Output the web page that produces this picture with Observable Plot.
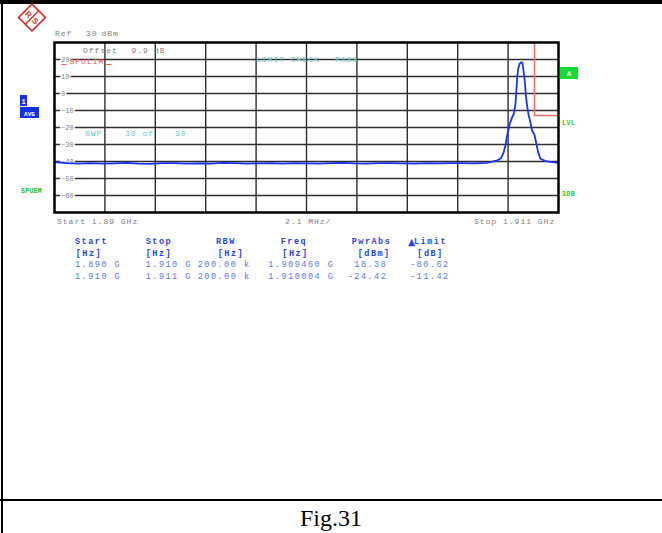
<!DOCTYPE html>
<html><head><meta charset="utf-8">
<script src="https://cdn.jsdelivr.net/npm/d3@7"></script>
<script src="https://cdn.jsdelivr.net/npm/@observablehq/plot@0.6"></script>
<style>
html,body{margin:0;padding:0;background:#fff;}
#page{position:relative;width:662px;height:533px;overflow:hidden;background:#fff;}
#page > svg{position:absolute;left:0;top:0;}
</style></head>
<body><div id="page"></div>
<script>
// ---- data ----
const traceFreq = [1890,1890.5,1891,1891.5,1892,1892.5,1893,1893.5,1894,1894.5,1895,1895.5,1896,1896.5,1897,1897.5,1898,1898.5,1899,1899.5,1900,1900.5,1901,1901.5,1902,1902.5,1903,1903.5,1904,1904.5,1905,1905.5,1906,1906.5,1907,1907.5,1908,
  1908.17,1908.45,1908.61,1908.72,1908.79,1908.86,1908.97,1909.07,1909.14,1909.21,1909.25,1909.28,1909.32,1909.38,1909.46,1909.5,1909.55,1909.6,1909.64,1909.7,1909.76,1909.83,1909.9,1909.97,1910.0,1910.07,1910.15,1910.25,1910.46,1910.74,1910.97,1911];
const traceLevel = [-40.4,-41.0,-41.2,-40.9,-41.3,-41.1,-40.8,-41.2,-41.4,-41.0,-40.9,-41.3,-41.1,-41.2,-40.8,-41.0,-41.3,-41.1,-41.0,-41.2,-40.9,-41.1,-41.3,-41.0,-40.8,-41.1,-41.2,-41.0,-40.9,-41.1,-41.2,-41.0,-41.1,-40.9,-41.0,-41.1,-40.8,
  -40.4,-39.4,-38.0,-34.4,-30.6,-24.7,-17.8,-13.9,-11.9,-6.0,2.8,9.6,14.5,17.5,18.4,17.8,12.5,6.6,-1.2,-8.1,-13.0,-16.9,-21.8,-23.5,-24.4,-29.0,-34.5,-38.4,-39.8,-40.4,-40.8,-40.9];
const limitFreq = [1890, 1910, 1910, 1911];
const limitLevel = [99, 99, -13, -13];
const gridFreqs = [1892.1, 1894.2, 1896.3, 1898.4, 1900.5, 1902.6, 1904.7, 1906.8, 1908.9];
const gridLevels = [20, 10, 0, -10, -20, -30, -40, -50, -60];

const tableHeader = ["Start", "Stop", "RBW", "Freq", "PwrAbs", "Limit"];
const tableUnits = ["[Hz]", "[Hz]", "[Hz]", "[Hz]", "[dBm]", "[dB]"];
const colStart = ["1.890 G", "1.910 G"];
const colStop = ["1.910 G", "1.911 G"];
const colRBW = ["200.00 k", "200.00 k"];
const colFreq = ["1.909460 G", "1.910004 G"];
const colPwrAbs = ["18.38", "-24.42"];
const colLimit = ["-80.62", "-11.42"];

// ---- chart ----
const mono = "'Liberation Mono','DejaVu Sans Mono',monospace";
const trace = traceFreq.map((f, i) => ({f, v: traceLevel[i]}));
const limit = limitFreq.map((f, i) => ({f, v: limitLevel[i]}));

const chart = Plot.plot({
  width: 662, height: 533,
  marginLeft: 54, marginRight: 104, marginTop: 42, marginBottom: 321,
  x: {domain: [1890, 1911], axis: null},
  y: {domain: [-70, 30], axis: null},
  style: {background: "transparent", fontFamily: mono},
  marks: [
    Plot.ruleX(gridFreqs, {x: d => d, stroke: "#2e2e2e", strokeWidth: 1.4}),
    Plot.ruleY(gridLevels, {y: d => d, stroke: "#2e2e2e", strokeWidth: 1.4}),
    Plot.text(gridLevels, {y: d => d, text: d => d < 0 ? "\u2212" + (-d) : String(d), frameAnchor: "left", dx: 6.5,
      textAnchor: "start", fill: "#808080", stroke: "white", strokeWidth: 3, fontSize: 7}),
    Plot.line(limit, {x: "f", y: "v", stroke: "#f06a6a", strokeWidth: 1.5, clip: true}),
    Plot.line(trace, {x: "f", y: "v", stroke: "#1a35f0", strokeWidth: 1.8, clip: true}),
    Plot.frame({stroke: "black", strokeWidth: 2.5})
  ]
});
document.getElementById("page").appendChild(chart);

// ---- overlay annotations ----
const ov = d3.create("svg").attr("width", 662).attr("height", 533)
  .style("font-family", mono);
function t(s, x, y, o = {}) {
  return ov.append("text").attr("x", x).attr("y", y).text(s)
    .attr("font-size", o.size || 8).attr("fill", o.fill || "#808080")
    .attr("font-weight", o.bold ? "bold" : "normal")
    .attr("text-anchor", o.anchor || "start")
    .style("letter-spacing", (o.ls !== undefined ? o.ls : 1) + "px")
    .style("white-space", "pre");
}
// page border
ov.append("rect").attr("x", 0).attr("y", 0).attr("width", 662).attr("height", 4).attr("fill", "black");
ov.append("rect").attr("x", 1).attr("y", 0).attr("width", 2).attr("height", 533).attr("fill", "black");
ov.append("rect").attr("x", 0).attr("y", 499).attr("width", 662).attr("height", 2).attr("fill", "black");

// logo
const lg = ov.append("g").attr("transform", "translate(32,17.5) rotate(45)");
lg.append("rect").attr("x", -9.5).attr("y", -9.5).attr("width", 19).attr("height", 19)
  .attr("fill", "none").attr("stroke", "#d42a2a").attr("stroke-width", 1.6);
lg.append("line").attr("x1", 0).attr("x2", 0).attr("y1", -9.5).attr("y2", 9.5)
  .attr("stroke", "#d42a2a").attr("stroke-width", 1.4);
lg.append("text").attr("x", -4.8).attr("y", 3).attr("text-anchor", "middle").attr("font-size", 8)
  .attr("font-weight", "bold").attr("fill", "#d42a2a").attr("font-family", "'Liberation Sans',sans-serif").text("R");
lg.append("text").attr("x", 4.8).attr("y", 3).attr("text-anchor", "middle").attr("font-size", 8)
  .attr("font-weight", "bold").attr("fill", "#d42a2a").attr("font-family", "'Liberation Sans',sans-serif").text("S");

// header texts
t("Ref", 55, 36); t("30", 86, 36); t("dBm", 101.5, 36);
t("Offset", 83, 53); t("9.9", 131.5, 53); t("dB", 154, 53);
// SPULIM limit-line label with its underscore marks
ov.append("line").attr("x1", 61.5).attr("x2", 66.5).attr("y1", 64.5).attr("y2", 64.5).attr("stroke", "#ee5555").attr("stroke-width", 1);
ov.append("line").attr("x1", 106).attr("x2", 111.5).attr("y1", 64.5).attr("y2", 64.5).attr("stroke", "#ee5555").attr("stroke-width", 1);
t("SPULIM", 69.5, 63.5, {fill: "#ee5555"});
t("LIMIT CHECK", 256, 62, {fill: "#66c8c8"}); t("PASS", 335, 62, {fill: "#66c8c8"});
t("SWP", 85, 136, {fill: "#66c8c8"}); t("30 of", 125, 136, {fill: "#66c8c8"}); t("30", 175, 136, {fill: "#66c8c8"});
t("Start 1.89 GHz", 57, 224); t("2.1 MHz/", 285, 224); t("Stop 1.911 GHz", 474, 224);

// side labels
ov.append("rect").attr("x", 20).attr("y", 95).attr("width", 7).attr("height", 11).attr("fill", "#1430e6");
t("1", 23.5, 103.5, {fill: "white", bold: true, size: 7, anchor: "middle", ls: 0});
ov.append("rect").attr("x", 20).attr("y", 107).attr("width", 19).attr("height", 11).attr("fill", "#1430e6");
t("AVG", 29.5, 115.5, {fill: "white", bold: true, size: 6, anchor: "middle", ls: 0});
t("SPUEM", 21, 193, {fill: "#22bb22", bold: true, size: 6.5, ls: 0.3});
ov.append("rect").attr("x", 560).attr("y", 67).attr("width", 18).attr("height", 12).attr("fill", "#11dd33");
t("A", 569, 76, {fill: "white", bold: true, size: 7, anchor: "middle", ls: 0});
t("LVL", 562, 124.5, {fill: "#22cc22", bold: true, size: 6.5, ls: 0.5});
t("3DB", 562, 196, {fill: "#22cc22", bold: true, size: 6.5, ls: 0.5});

// table
const adv = 6.6;
const tStyle = {size: 8.5, ls: 1.5};
const headerX = [75, 145.7, 216, 280.7, 351.7, 414];
const unitX = [75.7, 145.7, 217.7, 282.3, 357.7, 417.3];
const valueEnd = [121.2, 191.9, 250.5, 334.3, 387.3, 449.6];
const cols = [colStart, colStop, colRBW, colFreq, colPwrAbs, colLimit];
tableHeader.forEach((h, i) => t(h, headerX[i], 244.3, {...tStyle, fill: "#2a44e0", bold: true}));
t("\u25B2", 408, 244.5, {size: 9.5, fill: "#2a44e0", ls: 0, bold: true}).attr("font-family", "'DejaVu Sans',sans-serif");
tableUnits.forEach((u, i) => t(u, unitX[i], 255.7, {...tStyle, fill: "#2a44e0", bold: true}));
cols.forEach((c, i) => c.forEach((s, r) =>
  t(s, valueEnd[i] - s.length * adv, 267.3 + r * 12, {...tStyle, fill: "#5a78ee"})));

// caption
ov.append("text").attr("x", 331).attr("y", 526).attr("text-anchor", "middle")
  .attr("font-family", "'Liberation Serif','Times New Roman',serif").attr("font-size", 24)
  .attr("fill", "black").text("Fig.31");

document.getElementById("page").appendChild(ov.node());
</script></body></html>
